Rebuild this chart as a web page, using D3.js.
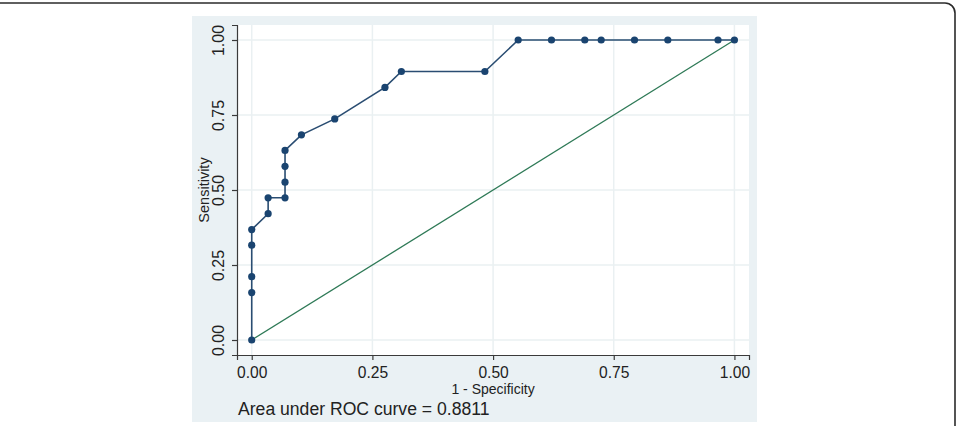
<!DOCTYPE html>
<html>
<head>
<meta charset="utf-8">
<script src="https://cdn.jsdelivr.net/npm/d3@7"></script>
<style>
  html, body { margin: 0; padding: 0; background: #fff; }
  svg { display: block; font-family: "Liberation Sans", Arial, sans-serif; }
</style>
</head>
<body>
<div class="chart-container"></div>
<script>
//! DATA
const specificity = [0, 0, 0, 0, 0, 0.034, 0.034, 0.069, 0.069, 0.069, 0.069, 0.103, 0.172, 0.276, 0.310,
  0.483, 0.552, 0.621, 0.690, 0.724, 0.793, 0.862, 0.966, 1.0];
const sensitivity = [0, 0.158, 0.211, 0.316, 0.368, 0.421, 0.474, 0.474, 0.526, 0.579, 0.632, 0.684, 0.737, 0.842, 0.895,
  0.895, 1.0, 1.0, 1.0, 1.0, 1.0, 1.0, 1.0, 1.0];
const tickValues = [0, 0.25, 0.5, 0.75, 1];
const xTitle = '1 - Specificity';
const yTitle = 'Sensitivity';
const note = 'Area under ROC curve = 0.8811';

//! CONSTS
const width = 957;
const height = 426;
const plot = { left: 237, top: 25, right: 749, bottom: 355 };

const svg = d3.select('.chart-container')
  .append('svg')
  .attr('width', width)
  .attr('height', height);

// outer frame
svg.append('path')
  .attr('d', 'M -5 3 H 945 A 10 10 0 0 1 955 13 V 440')
  .attr('fill', 'none')
  .attr('stroke', '#2b2b2b')
  .attr('stroke-width', 1.6);

// graph region
svg.append('rect')
  .attr('x', 192).attr('y', 16)
  .attr('width', 565).attr('height', 406)
  .attr('fill', '#eaf1f4');

svg.append('rect')
  .attr('x', plot.left).attr('y', plot.top)
  .attr('width', plot.right - plot.left).attr('height', plot.bottom - plot.top)
  .attr('fill', '#fff');

//! SCALES
const xScale = d3.scaleLinear().domain([-0.0305, 1.0302]).range([plot.left, plot.right]);
const yScale = d3.scaleLinear().domain([-0.05, 1.05]).range([plot.bottom, plot.top]);

//! GRID
svg.append('g').selectAll('line')
  .data(tickValues).enter().append('line')
  .attr('x1', d => xScale(d)).attr('x2', d => xScale(d))
  .attr('y1', plot.top).attr('y2', plot.bottom)
  .attr('stroke', '#eaf0f2').attr('stroke-width', 1.5);

svg.append('g').selectAll('line')
  .data(tickValues).enter().append('line')
  .attr('x1', plot.left).attr('x2', plot.right)
  .attr('y1', d => yScale(d)).attr('y2', d => yScale(d))
  .attr('stroke', '#eaf0f2').attr('stroke-width', 1.5);

//! AXES
const xAxis = d3.axisBottom(xScale).tickValues(tickValues).tickFormat(d3.format('.2f')).tickSizeOuter(0).tickSize(5);
const yAxis = d3.axisLeft(yScale).tickValues(tickValues).tickFormat(d3.format('.2f')).tickSizeOuter(0).tickSize(5);

const gx = svg.append('g')
  .attr('transform', `translate(0,${plot.bottom})`)
  .call(xAxis);
gx.selectAll('text')
  .attr('font-size', 15.6).attr('fill', '#222').attr('font-family', 'Liberation Sans, Arial, sans-serif')
  .attr('dy', 0).attr('y', 22.5);

const gy = svg.append('g')
  .attr('transform', `translate(${plot.left},0)`)
  .call(yAxis);
gy.selectAll('text')
  .attr('font-size', 16).attr('fill', '#222').attr('font-family', 'Liberation Sans, Arial, sans-serif')
  .attr('text-anchor', 'middle')
  .attr('x', 0).attr('dy', 0)
  .attr('transform', 'translate(-13,0) rotate(-90)');

[gx, gy].forEach(g => {
  g.select('.domain').attr('stroke', '#3a3a3a').attr('stroke-width', 1.2);
  g.selectAll('.tick line').attr('stroke', '#3a3a3a').attr('stroke-width', 1.2);
});

//! TITLES
svg.append('text')
  .attr('x', xScale(0.5)).attr('y', 394)
  .attr('text-anchor', 'middle')
  .attr('font-size', 14).attr('fill', '#222')
  .text(xTitle);

svg.append('text')
  .attr('transform', `translate(209,${yScale(0.5)}) rotate(-90)`)
  .attr('text-anchor', 'middle')
  .attr('font-size', 14.5).attr('fill', '#222')
  .text(yTitle);

svg.append('text')
  .attr('x', 238).attr('y', 415)
  .attr('font-size', 17.6).attr('fill', '#222')
  .text(note);

//! REFERENCE LINE
svg.append('line')
  .attr('x1', xScale(0)).attr('y1', yScale(0))
  .attr('x2', xScale(1)).attr('y2', yScale(1))
  .attr('stroke', '#2f7a57').attr('stroke-width', 1.3);

//! ROC CURVE
const points = specificity.map((d, i) => ({ x: d, y: sensitivity[i] }));

svg.append('path')
  .datum(points)
  .attr('d', d3.line().x(d => xScale(d.x)).y(d => yScale(d.y)))
  .attr('fill', 'none')
  .attr('stroke', '#2a4d72')
  .attr('stroke-width', 1.6);

svg.selectAll('circle.dot')
  .data(points).enter()
  .append('circle')
  .attr('class', 'dot')
  .attr('cx', d => xScale(d.x))
  .attr('cy', d => yScale(d.y))
  .attr('r', 3.6)
  .attr('fill', '#1a4470');
</script>
</body>
</html>
